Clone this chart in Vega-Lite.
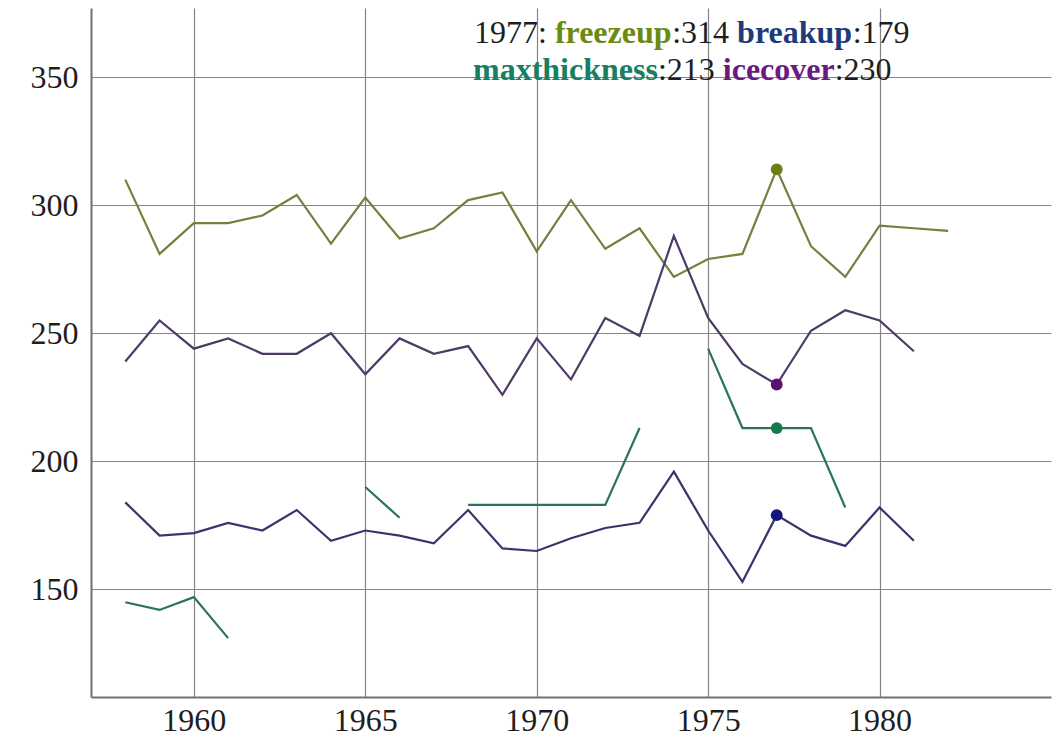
{
  "$schema": "https://vega.github.io/schema/vega-lite/v6.json",
  "width": 960,
  "height": 689,
  "autosize": "none",
  "padding": {"left": 91, "top": 8, "right": 7, "bottom": 44},
  "background": "white",
  "config": {"view": {"stroke": null}, "font": "Liberation Serif"},
  "data": {
    "values": [
      {"year": 1958, "freezeup": 310, "breakup": 184, "maxthickness": 145, "icecover": 239},
      {"year": 1959, "freezeup": 281, "breakup": 171, "maxthickness": 142, "icecover": 255},
      {"year": 1960, "freezeup": 293, "breakup": 172, "maxthickness": 147, "icecover": 244},
      {"year": 1961, "freezeup": 293, "breakup": 176, "maxthickness": 131, "icecover": 248},
      {"year": 1962, "freezeup": 296, "breakup": 173, "maxthickness": null, "icecover": 242},
      {"year": 1963, "freezeup": 304, "breakup": 181, "maxthickness": null, "icecover": 242},
      {"year": 1964, "freezeup": 285, "breakup": 169, "maxthickness": null, "icecover": 250},
      {"year": 1965, "freezeup": 303, "breakup": 173, "maxthickness": 190, "icecover": 234},
      {"year": 1966, "freezeup": 287, "breakup": 171, "maxthickness": 178, "icecover": 248},
      {"year": 1967, "freezeup": 291, "breakup": 168, "maxthickness": null, "icecover": 242},
      {"year": 1968, "freezeup": 302, "breakup": 181, "maxthickness": 183, "icecover": 245},
      {"year": 1969, "freezeup": 305, "breakup": 166, "maxthickness": 183, "icecover": 226},
      {"year": 1970, "freezeup": 282, "breakup": 165, "maxthickness": 183, "icecover": 248},
      {"year": 1971, "freezeup": 302, "breakup": 170, "maxthickness": 183, "icecover": 232},
      {"year": 1972, "freezeup": 283, "breakup": 174, "maxthickness": 183, "icecover": 256},
      {"year": 1973, "freezeup": 291, "breakup": 176, "maxthickness": 213, "icecover": 249},
      {"year": 1974, "freezeup": 272, "breakup": 196, "maxthickness": null, "icecover": 288},
      {"year": 1975, "freezeup": 279, "breakup": 173, "maxthickness": 244, "icecover": 256},
      {"year": 1976, "freezeup": 281, "breakup": 153, "maxthickness": 213, "icecover": 238},
      {"year": 1977, "freezeup": 314, "breakup": 179, "maxthickness": 213, "icecover": 230},
      {"year": 1978, "freezeup": 284, "breakup": 171, "maxthickness": 213, "icecover": 251},
      {"year": 1979, "freezeup": 272, "breakup": 167, "maxthickness": 182, "icecover": 259},
      {"year": 1980, "freezeup": 292, "breakup": 182, "maxthickness": null, "icecover": 255},
      {"year": 1981, "freezeup": 291, "breakup": 169, "maxthickness": null, "icecover": 243},
      {"year": 1982, "freezeup": 290, "breakup": null, "maxthickness": null, "icecover": null}
    ]
  },
  "layer": [
    {
      "transform": [{"fold": ["freezeup", "breakup", "maxthickness", "icecover"], "as": ["series", "value"]}],
      "mark": {"type": "line", "strokeWidth": 2.2, "invalid": "break-paths-show-domains"},
      "encoding": {
        "x": {
          "field": "year", "type": "quantitative",
          "scale": {"domain": [1957, 1985], "nice": false, "zero": false},
          "axis": {
            "values": [1960, 1965, 1970, 1975, 1980], "format": "d", "title": null,
            "labelFont": "Liberation Serif", "labelFontSize": 32, "labelColor": "#1e1e1e",
            "labelPadding": 8, "labelFlush": false, "ticks": false, "tickSize": 0,
            "domainColor": "#707070", "domainWidth": 2,
            "grid": true, "gridColor": "#858585", "gridWidth": 1.2
          }
        },
        "y": {
          "field": "value", "type": "quantitative",
          "scale": {"domain": [108, 377], "nice": false, "zero": false},
          "axis": {
            "values": [150, 200, 250, 300, 350], "title": null,
            "labelFont": "Liberation Serif", "labelFontSize": 32, "labelColor": "#1e1e1e",
            "labelPadding": 13, "ticks": false, "tickSize": 0,
            "domainColor": "#707070", "domainWidth": 2,
            "grid": true, "gridColor": "#858585", "gridWidth": 1.2
          }
        },
        "color": {
          "field": "series", "type": "nominal",
          "scale": {"domain": ["freezeup", "breakup", "maxthickness", "icecover"], "range": ["#74803e", "#36366c", "#2a7558", "#4e3a66"]},
          "legend": null
        }
      }
    },
    {
      "transform": [
        {"filter": "datum.year == 1977"},
        {"fold": ["freezeup", "breakup", "maxthickness", "icecover"], "as": ["series", "value"]}
      ],
      "mark": {"type": "circle", "size": 140, "opacity": 1},
      "encoding": {
        "x": {"field": "year", "type": "quantitative"},
        "y": {"field": "value", "type": "quantitative"},
        "color": {
          "field": "series", "type": "nominal",
          "scale": {"domain": ["freezeup", "breakup", "maxthickness", "icecover"], "range": ["#6a7f10", "#14147a", "#147a4e", "#5a106e"]},
          "legend": null
        }
      }
    },
    {
      "transform": [{"filter": "datum.year == 1977"}],
      "mark": {"type": "text", "align": "left", "baseline": "alphabetic", "font": "Liberation Serif", "fontSize": 32, "color": "#1e1e1e"},
      "encoding": {"text": {"field": "year", "type": "quantitative", "format": "d"}, "x": {"datum": 1968.171, "type": "quantitative"}, "y": {"datum": 363.33, "type": "quantitative"}}
    },
    {
      "transform": [{"filter": "datum.year == 1977"}],
      "mark": {"type": "text", "align": "left", "baseline": "alphabetic", "font": "Liberation Serif", "fontSize": 32, "color": "#1e1e1e", "text": ":"},
      "encoding": {"x": {"datum": 1970.0375, "type": "quantitative"}, "y": {"datum": 363.33, "type": "quantitative"}}
    },
    {
      "transform": [{"filter": "datum.year == 1977"}],
      "mark": {"type": "text", "align": "left", "baseline": "alphabetic", "font": "Liberation Serif", "fontSize": 32, "fontWeight": "bold", "color": "#6b8a12", "text": "freezeup"},
      "encoding": {"x": {"datum": 1970.53, "type": "quantitative"}, "y": {"datum": 363.33, "type": "quantitative"}}
    },
    {
      "transform": [{"filter": "datum.year == 1977"}],
      "mark": {"type": "text", "align": "left", "baseline": "alphabetic", "font": "Liberation Serif", "fontSize": 32, "color": "#1e1e1e", "text": ":"},
      "encoding": {"x": {"datum": 1973.952, "type": "quantitative"}, "y": {"datum": 363.33, "type": "quantitative"}}
    },
    {
      "transform": [{"filter": "datum.year == 1977"}],
      "mark": {"type": "text", "align": "left", "baseline": "alphabetic", "font": "Liberation Serif", "fontSize": 32, "color": "#1e1e1e"},
      "encoding": {"text": {"field": "freezeup", "type": "quantitative", "format": "d"}, "x": {"datum": 1974.211, "type": "quantitative"}, "y": {"datum": 363.33, "type": "quantitative"}}
    },
    {
      "transform": [{"filter": "datum.year == 1977"}],
      "mark": {"type": "text", "align": "left", "baseline": "alphabetic", "font": "Liberation Serif", "fontSize": 32, "fontWeight": "bold", "color": "#1e3a78", "text": "breakup"},
      "encoding": {"x": {"datum": 1975.845, "type": "quantitative"}, "y": {"datum": 363.33, "type": "quantitative"}}
    },
    {
      "transform": [{"filter": "datum.year == 1977"}],
      "mark": {"type": "text", "align": "left", "baseline": "alphabetic", "font": "Liberation Serif", "fontSize": 32, "color": "#1e1e1e", "text": ":"},
      "encoding": {"x": {"datum": 1979.216, "type": "quantitative"}, "y": {"datum": 363.33, "type": "quantitative"}}
    },
    {
      "transform": [{"filter": "datum.year == 1977"}],
      "mark": {"type": "text", "align": "left", "baseline": "alphabetic", "font": "Liberation Serif", "fontSize": 32, "color": "#1e1e1e"},
      "encoding": {"text": {"field": "breakup", "type": "quantitative", "format": "d"}, "x": {"datum": 1979.476, "type": "quantitative"}, "y": {"datum": 363.33, "type": "quantitative"}}
    },
    {
      "transform": [{"filter": "datum.year == 1977"}],
      "mark": {"type": "text", "align": "left", "baseline": "alphabetic", "font": "Liberation Serif", "fontSize": 32, "fontWeight": "bold", "color": "#168062", "text": "maxthickness"},
      "encoding": {"x": {"datum": 1968.142, "type": "quantitative"}, "y": {"datum": 348.89, "type": "quantitative"}}
    },
    {
      "transform": [{"filter": "datum.year == 1977"}],
      "mark": {"type": "text", "align": "left", "baseline": "alphabetic", "font": "Liberation Serif", "fontSize": 32, "color": "#1e1e1e", "text": ":"},
      "encoding": {"x": {"datum": 1973.535, "type": "quantitative"}, "y": {"datum": 348.89, "type": "quantitative"}}
    },
    {
      "transform": [{"filter": "datum.year == 1977"}],
      "mark": {"type": "text", "align": "left", "baseline": "alphabetic", "font": "Liberation Serif", "fontSize": 32, "color": "#1e1e1e"},
      "encoding": {"text": {"field": "maxthickness", "type": "quantitative", "format": "d"}, "x": {"datum": 1973.794, "type": "quantitative"}, "y": {"datum": 348.89, "type": "quantitative"}}
    },
    {
      "transform": [{"filter": "datum.year == 1977"}],
      "mark": {"type": "text", "align": "left", "baseline": "alphabetic", "font": "Liberation Serif", "fontSize": 32, "fontWeight": "bold", "color": "#6b1a80", "text": "icecover"},
      "encoding": {"x": {"datum": 1975.428, "type": "quantitative"}, "y": {"datum": 348.89, "type": "quantitative"}}
    },
    {
      "transform": [{"filter": "datum.year == 1977"}],
      "mark": {"type": "text", "align": "left", "baseline": "alphabetic", "font": "Liberation Serif", "fontSize": 32, "color": "#1e1e1e", "text": ":"},
      "encoding": {"x": {"datum": 1978.691, "type": "quantitative"}, "y": {"datum": 348.89, "type": "quantitative"}}
    },
    {
      "transform": [{"filter": "datum.year == 1977"}],
      "mark": {"type": "text", "align": "left", "baseline": "alphabetic", "font": "Liberation Serif", "fontSize": 32, "color": "#1e1e1e"},
      "encoding": {"text": {"field": "icecover", "type": "quantitative", "format": "d"}, "x": {"datum": 1978.951, "type": "quantitative"}, "y": {"datum": 348.89, "type": "quantitative"}}
    }
  ],
  "resolve": {"scale": {"color": "independent"}}
}
